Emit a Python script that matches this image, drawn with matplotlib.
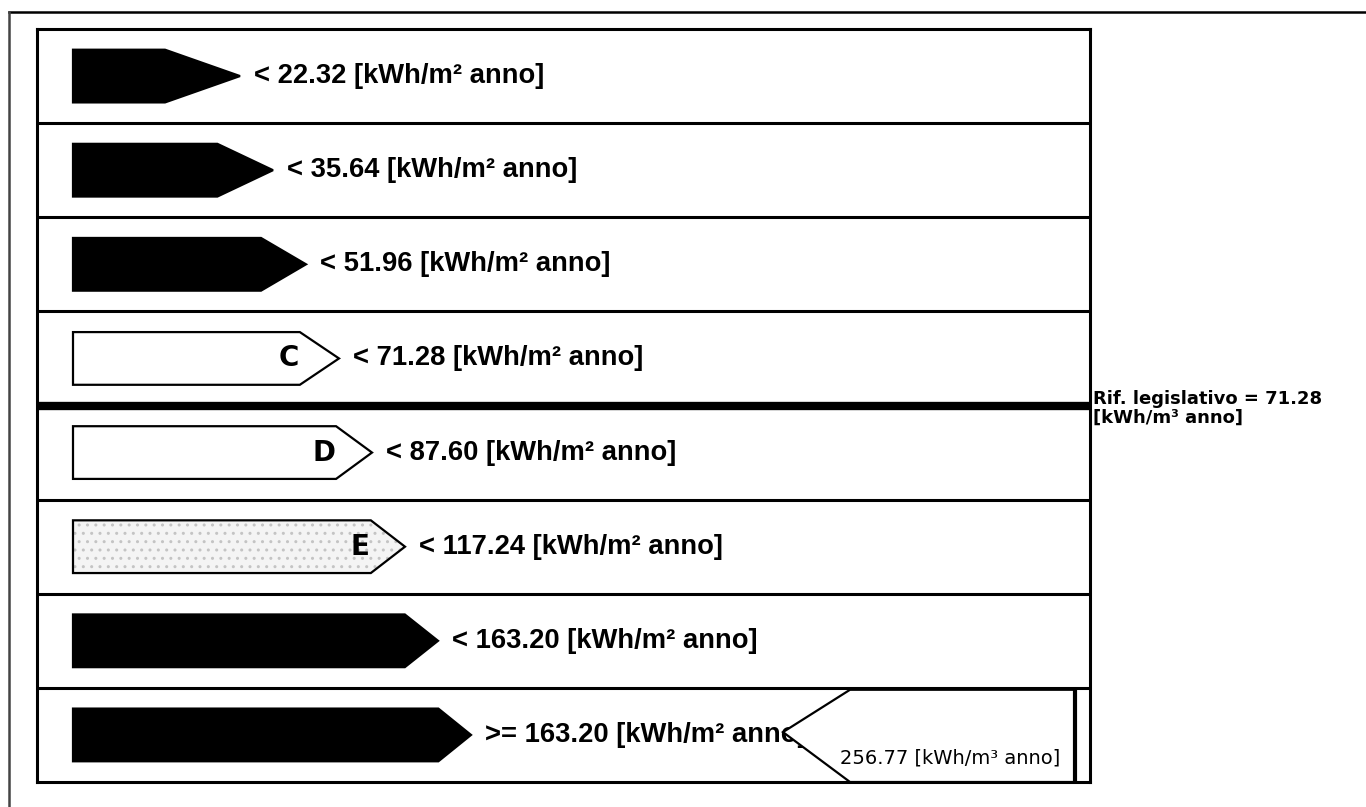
import matplotlib
matplotlib.use("Agg")
import matplotlib.pyplot as plt
from matplotlib.patches import Polygon
from matplotlib.lines import Line2D

# data
classes = ["A+", "A", "B", "C", "D", "E", "F", "G"]
thresholds = [22.32, 35.64, 51.96, 71.28, 87.60, 117.24, 163.20, 163.20]
operators = ["<", "<", "<", "<", "<", "<", "<", ">="]
bar_colors = ["black", "black", "black", "white", "white", "#ececec", "black", "black"]
rif_legislativo = 71.28
actual_value = 256.77
unit = "[kWh/m² anno]"

W, H = 1366, 807
fig = plt.figure(figsize=(W / 100, H / 100), dpi=100)

# outer frame (top and left only)
fig.add_artist(Line2D([9 / W, 1], [1 - 12 / H, 1 - 12 / H], color="black", lw=1.8))
fig.add_artist(Line2D([9 / W, 9 / W], [0, 1 - 12 / H], color="#444444", lw=1.8))

ax = fig.add_axes([37 / W, 25 / H, 1053 / W, 753 / H])
ax.set_xlim(0, 1053)
ax.set_ylim(len(classes), 0)
ax.set_xticks([])
ax.set_yticks([])
for s in ax.spines.values():
    s.set_linewidth(2.2)

ref_row = thresholds.index(rif_legislativo) + 1
for i in range(1, len(classes)):
    ax.axhline(i, color="black", lw=6 if i == ref_row else 2.2)

x0 = 36
half = 0.28
for i, (cls, thr, op, col) in enumerate(zip(classes, thresholds, operators, bar_colors)):
    yc = i + 0.5
    tip = 203 + 33 * i
    shoulder = tip - (32 + 43 * 0.55 ** i)
    pts = [(x0, yc - half), (shoulder, yc - half), (tip, yc),
           (shoulder, yc + half), (x0, yc + half)]
    if col == "#ececec":
        # speckled grey fill for class E
        ax.add_patch(Polygon(pts, closed=True, facecolor="#f4f4f4",
                             edgecolor="#c4c4c4", hatch="..", lw=0, zorder=2))
        ax.add_patch(Polygon(pts, closed=True, facecolor="none",
                             edgecolor="black", lw=1.6, zorder=3))
    else:
        ax.add_patch(Polygon(pts, closed=True, facecolor=col,
                             edgecolor="black", lw=1.6, zorder=3))
    ax.text(shoulder - 1, yc, cls, ha="right", va="center", fontsize=20,
            fontweight="bold", color="black", zorder=4)
    ax.text(tip + 14, yc, f"{op} {thr:.2f} {unit}", ha="left", va="center",
            fontsize=19.7, fontweight="bold", family="Liberation Sans", zorder=4)

# pointer with the actual value
act_row = len(classes) - 1
for i, thr in enumerate(thresholds):
    if actual_value < thr:
        act_row = i
        break
ptr = [(746, act_row + 0.47), (813, act_row + 0.02), (1038, act_row + 0.02),
       (1038, act_row + 1.0), (813, act_row + 1.0)]
ax.add_patch(Polygon(ptr, closed=True, facecolor="white", edgecolor="black",
                     lw=1.6, zorder=5))
ax.plot([1038, 1038], [act_row + 0.02, act_row + 1.0], color="black", lw=3, zorder=6)
ax.text(1023, act_row + 0.74, f"{actual_value:.2f} [kWh/m³ anno]", ha="right",
        va="center", fontsize=14, zorder=6)

# legislative reference label
ax.text(1056, ref_row + 0.03, f"Rif. legislativo = {rif_legislativo:.2f}\n[kWh/m³ anno]",
        ha="left", va="center", fontsize=13, fontweight="bold", linespacing=1.0,
        clip_on=False)

fig.savefig("out.png", dpi=100)
